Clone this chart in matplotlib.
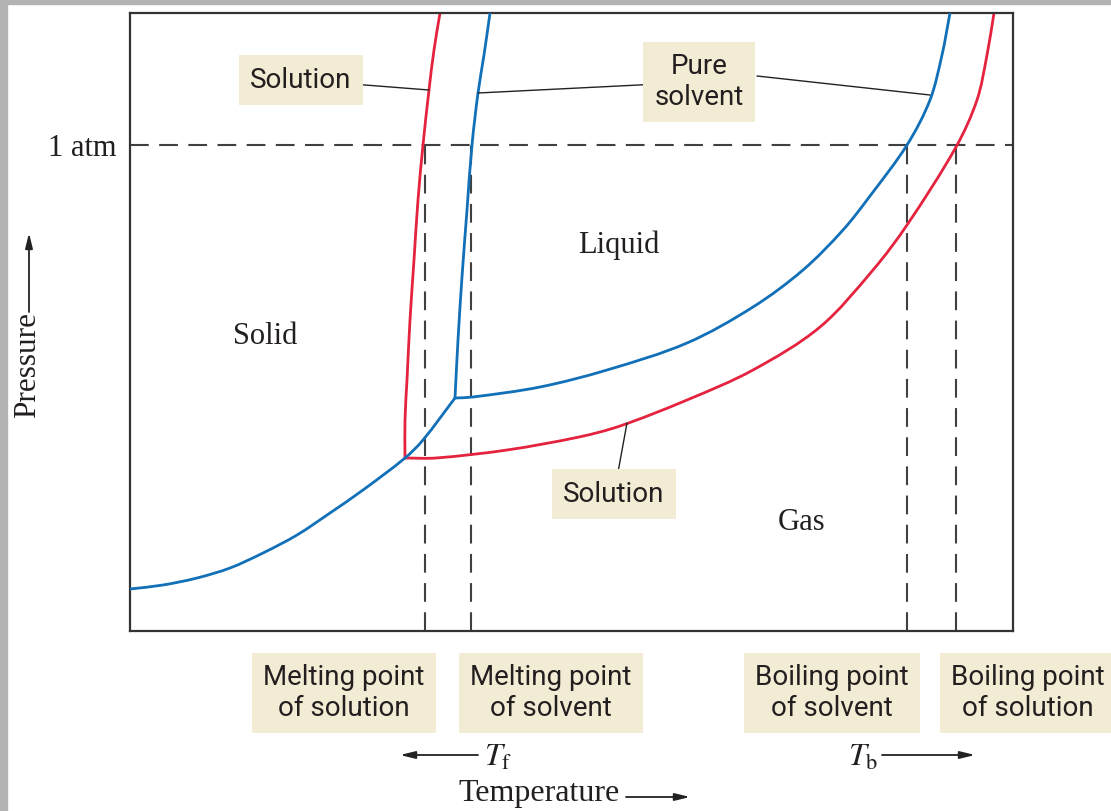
import math
import matplotlib.pyplot as plt
from matplotlib.patches import Rectangle, PathPatch
from matplotlib.path import Path

plt.rcParams['mathtext.fontset'] = 'stix'

SERIF = 'Liberation Serif'
SANS = 'Roboto'
BLUE = '#1170b8'
RED = '#e4233f'
INK = '#231f20'
BOX = '#f3ecd4'

# phase boundaries (temperature, pressure; arbitrary units)
sub_T = [0, 33, 67, 100, 133, 167, 200, 233, 275, 293, 325]
sub_P = [42, 46, 53, 63, 78, 96, 118, 141, 173, 191, 233]

melt_solvent_T = [325, 328, 332, 337, 342, 348, 354, 360]
melt_solvent_P = [233, 291, 354, 421, 486, 538, 576, 618]

melt_solution_T = [275, 275, 277, 280, 284, 288, 293, 299, 304, 310]
melt_solution_P = [173, 211, 251, 311, 371, 431, 486, 541, 581, 618]

vap_solvent_T = [325, 343, 410, 477, 557, 623, 673, 713, 740, 777, 800, 812, 820]
vap_solvent_P = [233, 234, 244, 261, 288, 324, 361, 401, 435, 486, 531, 576, 618]

vap_solution_T = [275, 306, 377, 449, 490, 557, 623, 690, 743, 777, 826, 847, 857, 864]
vap_solution_P = [173, 173, 181, 194, 205, 231, 261, 304, 361, 406, 484, 531, 576, 618]

p_atm = 486
fixed_T = [295, 341, 777, 826]  # Tf solution, Tf solvent, Tb solvent, Tb solution
fixed_labels = ['Melting point\nof solution', 'Melting point\nof solvent',
                'Boiling point\nof solvent', 'Boiling point\nof solution']


def smooth(xs, ys):
    # bezier path through the points, tangents from chord lengths
    pts = list(zip(xs, ys))
    n = len(pts)
    d = [math.dist(pts[i], pts[i + 1]) for i in range(n - 1)]
    tan = []
    for i in range(n):
        a = pts[max(i - 1, 0)]
        b = pts[min(i + 1, n - 1)]
        L = (d[i - 1] if i > 0 else 0) + (d[i] if i < n - 1 else 0)
        tan.append(((b[0] - a[0]) / L, (b[1] - a[1]) / L))
    verts = [pts[0]]
    codes = [Path.MOVETO]
    for i in range(n - 1):
        p1, p2 = pts[i], pts[i + 1]
        c1 = (p1[0] + tan[i][0] * d[i] / 3, p1[1] + tan[i][1] * d[i] / 3)
        c2 = (p2[0] - tan[i + 1][0] * d[i] / 3, p2[1] - tan[i + 1][1] * d[i] / 3)
        verts += [c1, c2, p2]
        codes += [Path.CURVE4] * 3
    return Path(verts, codes)


fig = plt.figure(figsize=(11.11, 8.11), dpi=100)
fig.patches.append(Rectangle((0, 0), 7 / 1111, 1, transform=fig.transFigure,
                             color='#b3b3b3', zorder=0))
fig.patches.append(Rectangle((0, 1 - 4 / 811), 1, 4 / 811, transform=fig.transFigure,
                             color='#b3b3b3', zorder=0))

ax = fig.add_axes([130 / 1111, 180 / 811, 883 / 1111, 618 / 811])
ax.set_xlim(0, 883)
ax.set_ylim(0, 618)
for s in ax.spines.values():
    s.set_color('#333333')
    s.set_linewidth(1.6)
ax.set_xticks([])
ax.set_yticks([p_atm], ['1 atm'])
ax.tick_params(axis='y', length=0, pad=10, labelsize=22, labelcolor=INK)
for lab in ax.get_yticklabels():
    lab.set_family(SERIF)

dash = dict(color='#404040', lw=1.5, linestyle=(0, (9, 5)), zorder=1)
ax.axhline(p_atm, **dash)
for t in fixed_T:
    ax.plot([t, t], [0, p_atm], **dash)

for xs, ys, c, z in [(sub_T, sub_P, BLUE, 3),
                     (melt_solvent_T, melt_solvent_P, BLUE, 3),
                     (vap_solvent_T, vap_solvent_P, BLUE, 3),
                     (melt_solution_T, melt_solution_P, RED, 2),
                     (vap_solution_T, vap_solution_P, RED, 2)]:
    ax.add_patch(PathPatch(smooth(xs, ys), fc='none', ec=c, lw=2, zorder=z,
                           capstyle='round', joinstyle='round'))

# region names
for name, x, y in [('Solid', 135, 294), ('Liquid', 489, 386), ('Gas', 672, 108)]:
    ax.text(x, y, name, family=SERIF, fontsize=22, color=INK, ha='center', va='center')

# boxed callouts with leader lines
boxkw = dict(boxstyle='square,pad=0.4', fc=BOX, ec='none')
lead = dict(arrowstyle='-', color='#222222', lw=1, shrinkA=0, shrinkB=0)
ax.annotate('Solution', xy=(299, 541), xytext=(171, 551), family=SANS, fontsize=20,
            color=INK, ha='center', va='center', bbox=boxkw, arrowprops=lead)
ax.annotate('Pure\nsolvent', xy=(348, 538), xytext=(569, 549), family=SANS, fontsize=20,
            color=INK, ha='center', va='center', linespacing=1.15, bbox=boxkw,
            arrowprops=lead)
ax.annotate('', xy=(800, 536), xytext=(627, 555), arrowprops=lead)
ax.annotate('Solution', xy=(497, 208), xytext=(484, 137), family=SANS, fontsize=20,
            color=INK, ha='center', va='center', bbox=boxkw, arrowprops=lead)

# labels under the plot
for lab, px in zip(fixed_labels, [344, 551, 832, 1028]):
    fig.text(px / 1111, 1 - 693 / 811, lab, family=SANS, fontsize=20, color=INK,
             ha='center', va='center', linespacing=1.15, bbox=boxkw)

arr = dict(arrowstyle='-|>,head_length=0.9,head_width=0.22', color='#222222', lw=1.3,
           shrinkA=0, shrinkB=0)
fp = 'figure pixels'
ax.annotate('', xy=(400, 811 - 755), xytext=(478, 811 - 755), xycoords=fp, textcoords=fp,
            arrowprops=arr, annotation_clip=False)
fig.text(484 / 1111, 1 - 757 / 811, r'$T_{\mathrm{f}}$', fontsize=23, color=INK,
         ha='left', va='center')
ax.annotate('', xy=(975, 811 - 755), xytext=(882, 811 - 755), xycoords=fp, textcoords=fp,
            arrowprops=arr, annotation_clip=False)
fig.text(878 / 1111, 1 - 757 / 811, r'$T_{\mathrm{b}}$', fontsize=23, color=INK,
         ha='right', va='center')
fig.text(539 / 1111, 1 - 793 / 811, 'Temperature', family=SERIF, fontsize=23, color=INK,
         ha='center', va='center')
ax.annotate('', xy=(690, 811 - 797), xytext=(626, 811 - 797), xycoords=fp, textcoords=fp,
            arrowprops=arr, annotation_clip=False)
fig.text(28 / 1111, 1 - 365 / 811, 'Pressure', family=SERIF, fontsize=22.5, color=INK,
         rotation=90, ha='center', va='center')
ax.annotate('', xy=(29, 811 - 233), xytext=(29, 811 - 312), xycoords=fp, textcoords=fp,
            arrowprops=arr, annotation_clip=False)

fig.savefig('out.png', dpi=100, facecolor='white')
